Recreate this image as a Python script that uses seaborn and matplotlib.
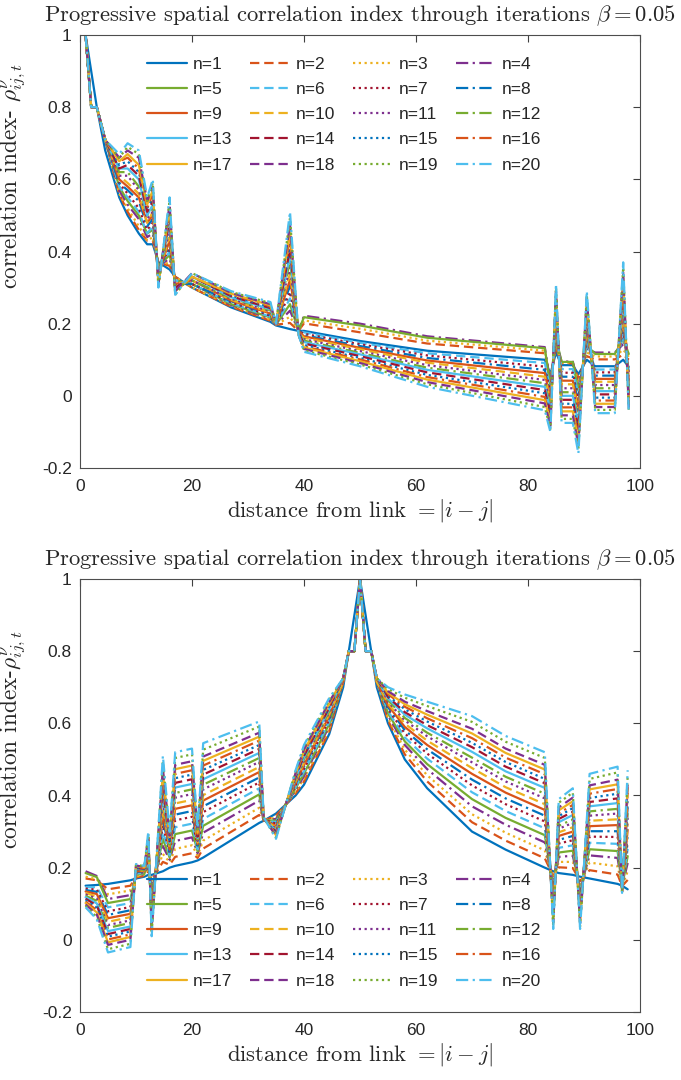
import matplotlib
matplotlib.use("Agg")
import matplotlib.pyplot as plt
import pandas as pd
import seaborn as sns

# ---------------- data: top panel ----------------
TX = [1, 2, 3, 4.5, 7, 8.5, 10.5, 12, 13, 14, 16, 17, 20, 27, 34, 35, 37.5, 39, 40, 50, 62, 83,
      84, 85, 86, 88, 89, 90.5, 92, 95.5, 97, 98]
T1 = [1.0, .9, .8, .68, .55, .50, .45, .42, .42, .37, .35, .33, .30, .245, .205, .195, .185, .18, .180, .152, .125, .100, .060, .12, .085, .085, .060, .10, .082, .082, .100, .080]
T2 = [1, .8, .8, .71, .56, .51, .46, .43, .43, .37, .36, .33, .30, .247, .208, .197, .202, .18, .201, .176, .145, .118, .052, .13, .090, .090, .048, .11, .101, .101, .114, .100]
T3 = [1, .8, .8, .71, .56, .52, .47, .43, .44, .36, .37, .33, .30, .250, .211, .197, .219, .18, .209, .186, .153, .125, .043, .14, .092, .092, .037, .12, .109, .109, .128, .108]
T4 = [1, .8, .8, .71, .57, .53, .49, .44, .45, .36, .38, .32, .31, .252, .214, .197, .236, .18, .222, .200, .165, .135, .035, .15, .095, .095, .025, .13, .120, .120, .143, .120]
T5 = [1, .8, .8, .71, .58, .54, .50, .45, .46, .36, .39, .32, .31, .254, .217, .197, .254, .18, .218, .195, .161, .132, .026, .16, .094, .094, .014, .14, .116, .116, .157, .116]
T6 = [1, .8, .8, .71, .58, .55, .51, .45, .47, .35, .40, .32, .31, .257, .219, .197, .270, .18, .176, .147, .118, .091, .018, .17, .074, .074, .002, .15, .073, .073, .171, .071]
T7 = [1, .8, .8, .71, .59, .56, .52, .46, .48, .35, .41, .31, .31, .259, .222, .197, .288, .18, .172, .143, .112, .081, .009, .18, .064, .064, -.010, .16, .065, .065, .185, .063]
T8 = [1, .8, .8, .71, .59, .57, .54, .47, .49, .34, .42, .31, .31, .262, .225, .197, .305, .18, .168, .138, .105, .072, .001, .19, .053, .053, -.021, .17, .056, .056, .199, .054]
T9 = [1, .8, .8, .71, .60, .58, .55, .48, .50, .34, .43, .31, .32, .264, .228, .197, .322, .18, .165, .133, .098, .063, -.007, .20, .042, .042, -.033, .18, .047, .047, .214, .045]
T10 = [1, .8, .8, .71, .61, .59, .56, .48, .51, .34, .44, .31, .32, .266, .231, .197, .339, .175, .161, .129, .092, .053, -.016, .21, .032, .032, -.044, .19, .039, .039, .228, .037]
T11 = [1, .8, .8, .71, .61, .61, .57, .49, .51, .33, .46, .30, .32, .269, .234, .2, .356, .175, .157, .124, .085, .044, -.024, .22, .021, .021, -.056, .20, .030, .030, .242, .028]
T12 = [1, .8, .8, .71, .62, .62, .58, .50, .52, .33, .47, .30, .32, .271, .237, .2, .373, .175, .153, .119, .078, .035, -.033, .23, .010, .010, -.067, .21, .021, .021, .256, .019]
T13 = [1, .8, .8, .71, .63, .63, .60, .50, .53, .33, .48, .30, .33, .273, .240, .2, .390, .175, .149, .115, .072, .025, -.041, .24, .000, .000, -.079, .22, .013, .013, .271, .011]
T14 = [1, .8, .8, .71, .63, .64, .61, .51, .54, .32, .49, .30, .33, .276, .243, .2, .407, .175, .145, .110, .065, .016, -.049, .25, -.011, -.011, -.090, .23, .004, .004, .285, .002]
T15 = [1, .8, .8, .71, .64, .65, .62, .52, .55, .32, .50, .29, .33, .278, .246, .2, .425, .175, .141, .105, .058, .007, -.058, .26, -.022, -.022, -.102, .24, -.005, -.005, .299, -.007]
T16 = [1, .8, .8, .71, .65, .66, .63, .52, .56, .31, .51, .29, .33, .281, .248, .2, .441, .17, .137, .101, .052, -.003, -.066, .27, -.032, -.032, -.114, .25, -.013, -.013, .313, -.015]
T17 = [1, .8, .8, .71, .65, .67, .64, .53, .57, .31, .52, .29, .33, .283, .251, .2, .459, .17, .134, .096, .045, -.012, -.075, .28, -.043, -.043, -.125, .26, -.022, -.022, .327, -.024]
T18 = [1, .8, .8, .71, .66, .68, .66, .54, .58, .31, .53, .29, .34, .285, .254, .2, .476, .17, .130, .091, .038, -.021, -.083, .29, -.054, -.054, -.137, .27, -.031, -.031, .342, -.033]
T19 = [1, .8, .8, .71, .66, .69, .67, .54, .59, .30, .54, .28, .34, .288, .257, .2, .493, .17, .126, .087, .032, -.031, -.092, .30, -.064, -.064, -.148, .28, -.039, -.039, .356, -.041]
T20 = [1, .8, .8, .71, .67, .70, .68, .55, .60, .30, .55, .28, .34, .290, .260, .2, .510, .17, .122, .082, .025, -.040, -.100, .31, -.075, -.075, -.160, .29, -.048, -.048, .370, -.050]

# ---------------- data: bottom panel ----------------
BX = [1, 3, 5, 9, 10, 11.5, 12.2, 12.8, 14.8, 16, 17, 20, 21, 22, 32, 32.8, 35, 38.5, 40, 44.5,
      47, 48, 49, 50, 51, 52, 53, 55, 58, 62, 70, 76, 83, 84.5, 85.5, 88, 89.3, 91, 96, 96.8, 97.8]
B1 = [.15, .152, .155, .165, .17, .175, .18, .18, .19, .20, .205, .215, .22, .228, .324, .33, .35, .40, .43, .57, .70, .8, .9, 1, .9, .8, .70, .60, .50, .42, .30, .25, .20, .19, .185, .18, .175, .17, .155, .15, .14]
B2 = [.17, .165, .140, .150, .173, .177, .19, .166, .216, .208, .23, .24, .227, .253, .346, .33, .344, .406, .439, .578, .715, .8, .8, 1, .8, .8, .715, .608, .514, .439, .326, .275, .226, .177, .201, .199, .163, .193, .181, .149, .166]
B3 = [.175, .168, .126, .137, .176, .180, .198, .154, .238, .215, .252, .262, .234, .275, .366, .331, .339, .411, .447, .585, .715, .8, .8, 1, .8, .8, .715, .615, .527, .456, .348, .297, .248, .166, .216, .216, .153, .214, .204, .148, .19]
B4 = [.19, .177, .113, .124, .179, .182, .206, .143, .26, .222, .274, .284, .24, .297, .386, .331, .335, .415, .454, .592, .715, .8, .8, 1, .8, .8, .715, .622, .54, .473, .37, .319, .27, .155, .23, .233, .143, .234, .227, .147, .213]
B5 = [.185, .174, .102, .113, .181, .183, .214, .132, .28, .228, .293, .303, .245, .316, .403, .332, .33, .42, .461, .598, .715, .8, .8, 1, .8, .8, .715, .628, .55, .487, .39, .338, .29, .145, .242, .247, .134, .251, .246, .146, .232]
B6 = [.146, .146, .090, .102, .184, .185, .221, .122, .299, .234, .312, .322, .251, .335, .42, .332, .326, .424, .467, .604, .715, .8, .8, 1, .8, .8, .715, .634, .561, .502, .409, .357, .309, .136, .255, .262, .126, .269, .266, .145, .252]
B7 = [.142, .139, .079, .091, .186, .187, .228, .112, .318, .24, .331, .341, .256, .354, .436, .333, .322, .428, .474, .61, .715, .8, .8, 1, .8, .8, .715, .64, .572, .516, .428, .376, .328, .126, .267, .276, .117, .286, .285, .144, .272]
B8 = [.138, .133, .069, .082, .188, .189, .234, .103, .334, .245, .347, .357, .261, .37, .45, .333, .318, .432, .48, .615, .715, .8, .8, 1, .8, .8, .715, .645, .581, .528, .444, .392, .344, .118, .277, .288, .11, .301, .301, .143, .289]
B9 = [.134, .127, .060, .072, .19, .19, .24, .095, .35, .25, .363, .373, .265, .386, .465, .334, .315, .435, .485, .62, .715, .8, .8, 1, .8, .8, .715, .65, .59, .54, .46, .408, .36, .11, .288, .30, .102, .315, .318, .142, .305]
B10 = [.130, .120, .050, .063, .192, .192, .246, .086, .366, .255, .378, .388, .27, .401, .479, .334, .311, .439, .491, .625, .715, .8, .8, 1, .8, .8, .715, .655, .599, .552, .476, .423, .376, .102, .298, .312, .095, .33, .334, .141, .322]
B11 = [.126, .114, .041, .054, .194, .193, .252, .078, .382, .26, .394, .404, .274, .417, .493, .335, .308, .442, .496, .63, .725, .8, .8, 1, .8, .8, .725, .66, .608, .564, .492, .439, .392, .094, .308, .324, .088, .344, .35, .14, .338]
B12 = [.122, .108, .033, .047, .196, .194, .257, .071, .395, .264, .407, .417, .278, .43, .504, .335, .305, .445, .50, .634, .725, .8, .8, 1, .8, .8, .725, .664, .615, .574, .505, .452, .405, .088, .316, .334, .082, .356, .363, .139, .351]
B13 = [.118, .101, .024, .037, .198, .196, .263, .063, .411, .269, .422, .432, .282, .445, .518, .336, .302, .448, .506, .639, .725, .8, .8, 1, .8, .8, .725, .669, .624, .586, .521, .467, .421, .08, .326, .346, .075, .37, .379, .138, .368]
B14 = [.114, .095, .016, .030, .199, .197, .268, .056, .424, .273, .435, .445, .286, .458, .529, .336, .299, .451, .51, .643, .725, .8, .8, 1, .8, .8, .725, .673, .631, .595, .534, .48, .434, .073, .335, .355, .069, .382, .392, .137, .381]
B15 = [.110, .089, .009, .023, .201, .198, .272, .049, .436, .277, .448, .458, .289, .471, .54, .337, .296, .454, .515, .647, .725, .8, .8, 1, .8, .8, .725, .677, .639, .605, .546, .493, .446, .067, .343, .365, .063, .393, .405, .136, .394]
B16 = [.106, .082, .001, .015, .202, .199, .277, .042, .449, .281, .46, .47, .293, .483, .552, .337, .293, .457, .519, .651, .725, .8, .8, 1, .8, .8, .725, .681, .646, .614, .559, .505, .459, .06, .351, .374, .058, .405, .418, .135, .407]
B17 = [.102, .076, -.007, .008, .204, .201, .282, .035, .462, .285, .473, .483, .297, .496, .563, .338, .29, .46, .524, .655, .725, .8, .8, 1, .8, .8, .725, .685, .653, .624, .572, .518, .472, .054, .359, .384, .052, .417, .431, .134, .421]
B18 = [.098, .070, -.014, .000, .206, .202, .287, .029, .475, .289, .485, .495, .30, .508, .574, .338, .288, .462, .528, .659, .725, .8, .8, 1, .8, .8, .725, .689, .66, .634, .585, .53, .485, .048, .367, .394, .046, .428, .444, .133, .434]
B19 = [.094, .063, -.026, -.011, .208, .204, .294, .018, .494, .295, .504, .514, .306, .527, .591, .339, .283, .467, .535, .665, .725, .8, .8, 1, .8, .8, .725, .695, .671, .648, .604, .549, .504, .038, .38, .408, .037, .446, .464, .131, .454]
B20 = [.09, .057, -.035, -.020, .21, .205, .30, .01, .51, .30, .52, .53, .31, .545, .605, .34, .28, .47, .54, .67, .725, .8, .8, 1, .8, .8, .725, .70, .68, .66, .62, .565, .52, .03, .39, .42, .03, .46, .48, .13, .47]

TOP_SERIES = [T1, T2, T3, T4, T5, T6, T7, T8, T9, T10, T11, T12, T13, T14, T15, T16, T17, T18, T19, T20]
BOT_SERIES = [B1, B2, B3, B4, B5, B6, B7, B8, B9, B10, B11, B12, B13, B14, B15, B16, B17, B18, B19, B20]
LABELS = ["n=%d" % i for i in range(1, 21)]

X_TICKS = [0, 20, 40, 60, 80, 100]
X_TICKLABELS = ["0", "20", "40", "60", "80", "100"]
Y_TICKS = [-0.2, 0, 0.2, 0.4, 0.6, 0.8, 1]
Y_TICKLABELS = ["-0.2", "0", "0.2", "0.4", "0.6", "0.8", "1"]

TITLE = r"Progressive spatial correlation index through iterations $\beta = 0.05$"
XLABEL = r"distance from link $= |i-j|$"
YLABEL_TOP = r"correlation index- $\rho^{\nu}_{ij,t}$"
YLABEL_BOT = r"correlation index-$\rho^{\nu}_{ij,t}$"

# ---------------- style ----------------
sns.set_style("white")
plt.rcParams["font.family"] = ["Liberation Sans", "DejaVu Sans"]
plt.rcParams["mathtext.fontset"] = "cm"
plt.rcParams["axes.unicode_minus"] = False

COLORS = ["#0072BD", "#D95319", "#EDB120", "#7E2F8E", "#77AC30", "#4DBEEE", "#A2142F"]
STYLES = ["-", (0, (4.2, 2.2)), (0, (1.0, 1.6)), (0, (5.5, 2.0, 1.0, 2.0))]

fig = plt.figure(figsize=(6.81, 10.8), dpi=100)
ax_top = fig.add_axes([80 / 681, 1 - 468 / 1080, 560 / 681, 433 / 1080])
ax_bot = fig.add_axes([80 / 681, 1 - 1012 / 1080, 560 / 681, 433 / 1080])


def draw(ax, xs, series, ylabel, legend_anchor, ylabel_y):
    for i, ys in enumerate(series):
        df = pd.DataFrame({"x": xs, "y": ys})
        sns.lineplot(data=df, x="x", y="y", ax=ax, color=COLORS[i % 7],
                     linewidth=1.6, sort=False, estimator=None, label=LABELS[i])
        ax.lines[-1].set_linestyle(STYLES[i % 4])
    ax.set_xlim(0, 100)
    ax.set_ylim(-0.2, 1)
    ax.set_xticks(X_TICKS)
    ax.set_xticklabels(X_TICKLABELS)
    ax.set_yticks(Y_TICKS)
    ax.set_yticklabels(Y_TICKLABELS)
    ax.tick_params(direction="in", top=True, right=True, length=5, width=0.8,
                   colors="#404040", labelcolor="#262626", labelsize=12.5)
    ax.tick_params(axis="x", pad=8)
    ax.tick_params(axis="y", pad=6)
    for sp in ax.spines.values():
        sp.set_color("#4d4d4d")
        sp.set_linewidth(0.8)
    ax.set_title(TITLE, fontfamily="cmr10", fontsize=16.3, pad=10)
    ax.set_xlabel(XLABEL, fontfamily="cmr10", fontsize=16.3, labelpad=2)
    ax.set_ylabel(ylabel, fontfamily="cmr10", fontsize=16.8)
    ax.yaxis.set_label_coords(-0.092, ylabel_y)
    handles = ax.get_lines()
    order = [0, 4, 8, 12, 16, 1, 5, 9, 13, 17, 2, 6, 10, 14, 18, 3, 7, 11, 15, 19]
    ax.legend([handles[k] for k in order], [LABELS[k] for k in order], ncol=4,
              frameon=False, loc="upper left", bbox_to_anchor=legend_anchor,
              fontsize=12.5, handlelength=2.3, handletextpad=0.35,
              columnspacing=1.0, labelspacing=0.58, borderaxespad=0.0, borderpad=0.0)


draw(ax_top, TX, TOP_SERIES, YLABEL_TOP, (0.12, 0.95), 0.675)
draw(ax_bot, BX, BOT_SERIES, YLABEL_BOT, (0.12, 0.322), 0.63)

fig.savefig("out.png", dpi=100)
